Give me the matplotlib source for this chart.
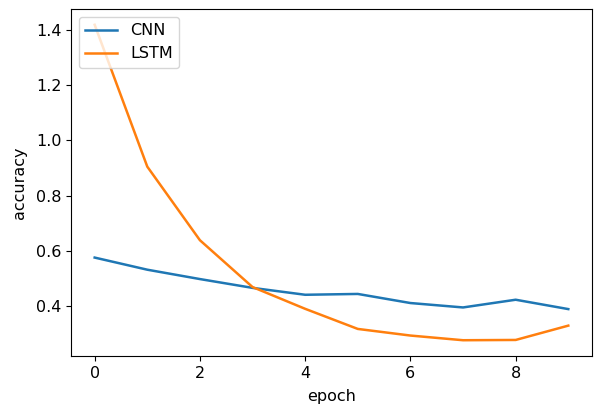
import matplotlib
matplotlib.use("Agg")
import matplotlib.pyplot as plt

epochs = [0, 1, 2, 3, 4, 5, 6, 7, 8, 9]
cnn_acc = [0.575, 0.531, 0.497, 0.465, 0.440, 0.443, 0.410, 0.394, 0.422, 0.388]
lstm_acc = [1.42, 0.905, 0.638, 0.468, 0.389, 0.316, 0.292, 0.275, 0.276, 0.328]

plt.rcParams["font.size"] = 11.5

fig = plt.figure(figsize=(5.94, 4.07), dpi=100)
ax = fig.add_axes([0.1195, 0.1253, 0.8771, 0.8526])

ax.plot(epochs, cnn_acc, label="CNN", linewidth=1.8)
ax.plot(epochs, lstm_acc, label="LSTM", linewidth=1.8)

# title sits mostly above the saved area, only the descenders show
ax.set_title("Model comparing accuracy", family="serif", fontsize=16, pad=10)
ax.set_xlabel("epoch", labelpad=6)
ax.set_ylabel("accuracy", labelpad=6)
ax.legend(loc="upper left")

fig.savefig("out.png", dpi=100)
